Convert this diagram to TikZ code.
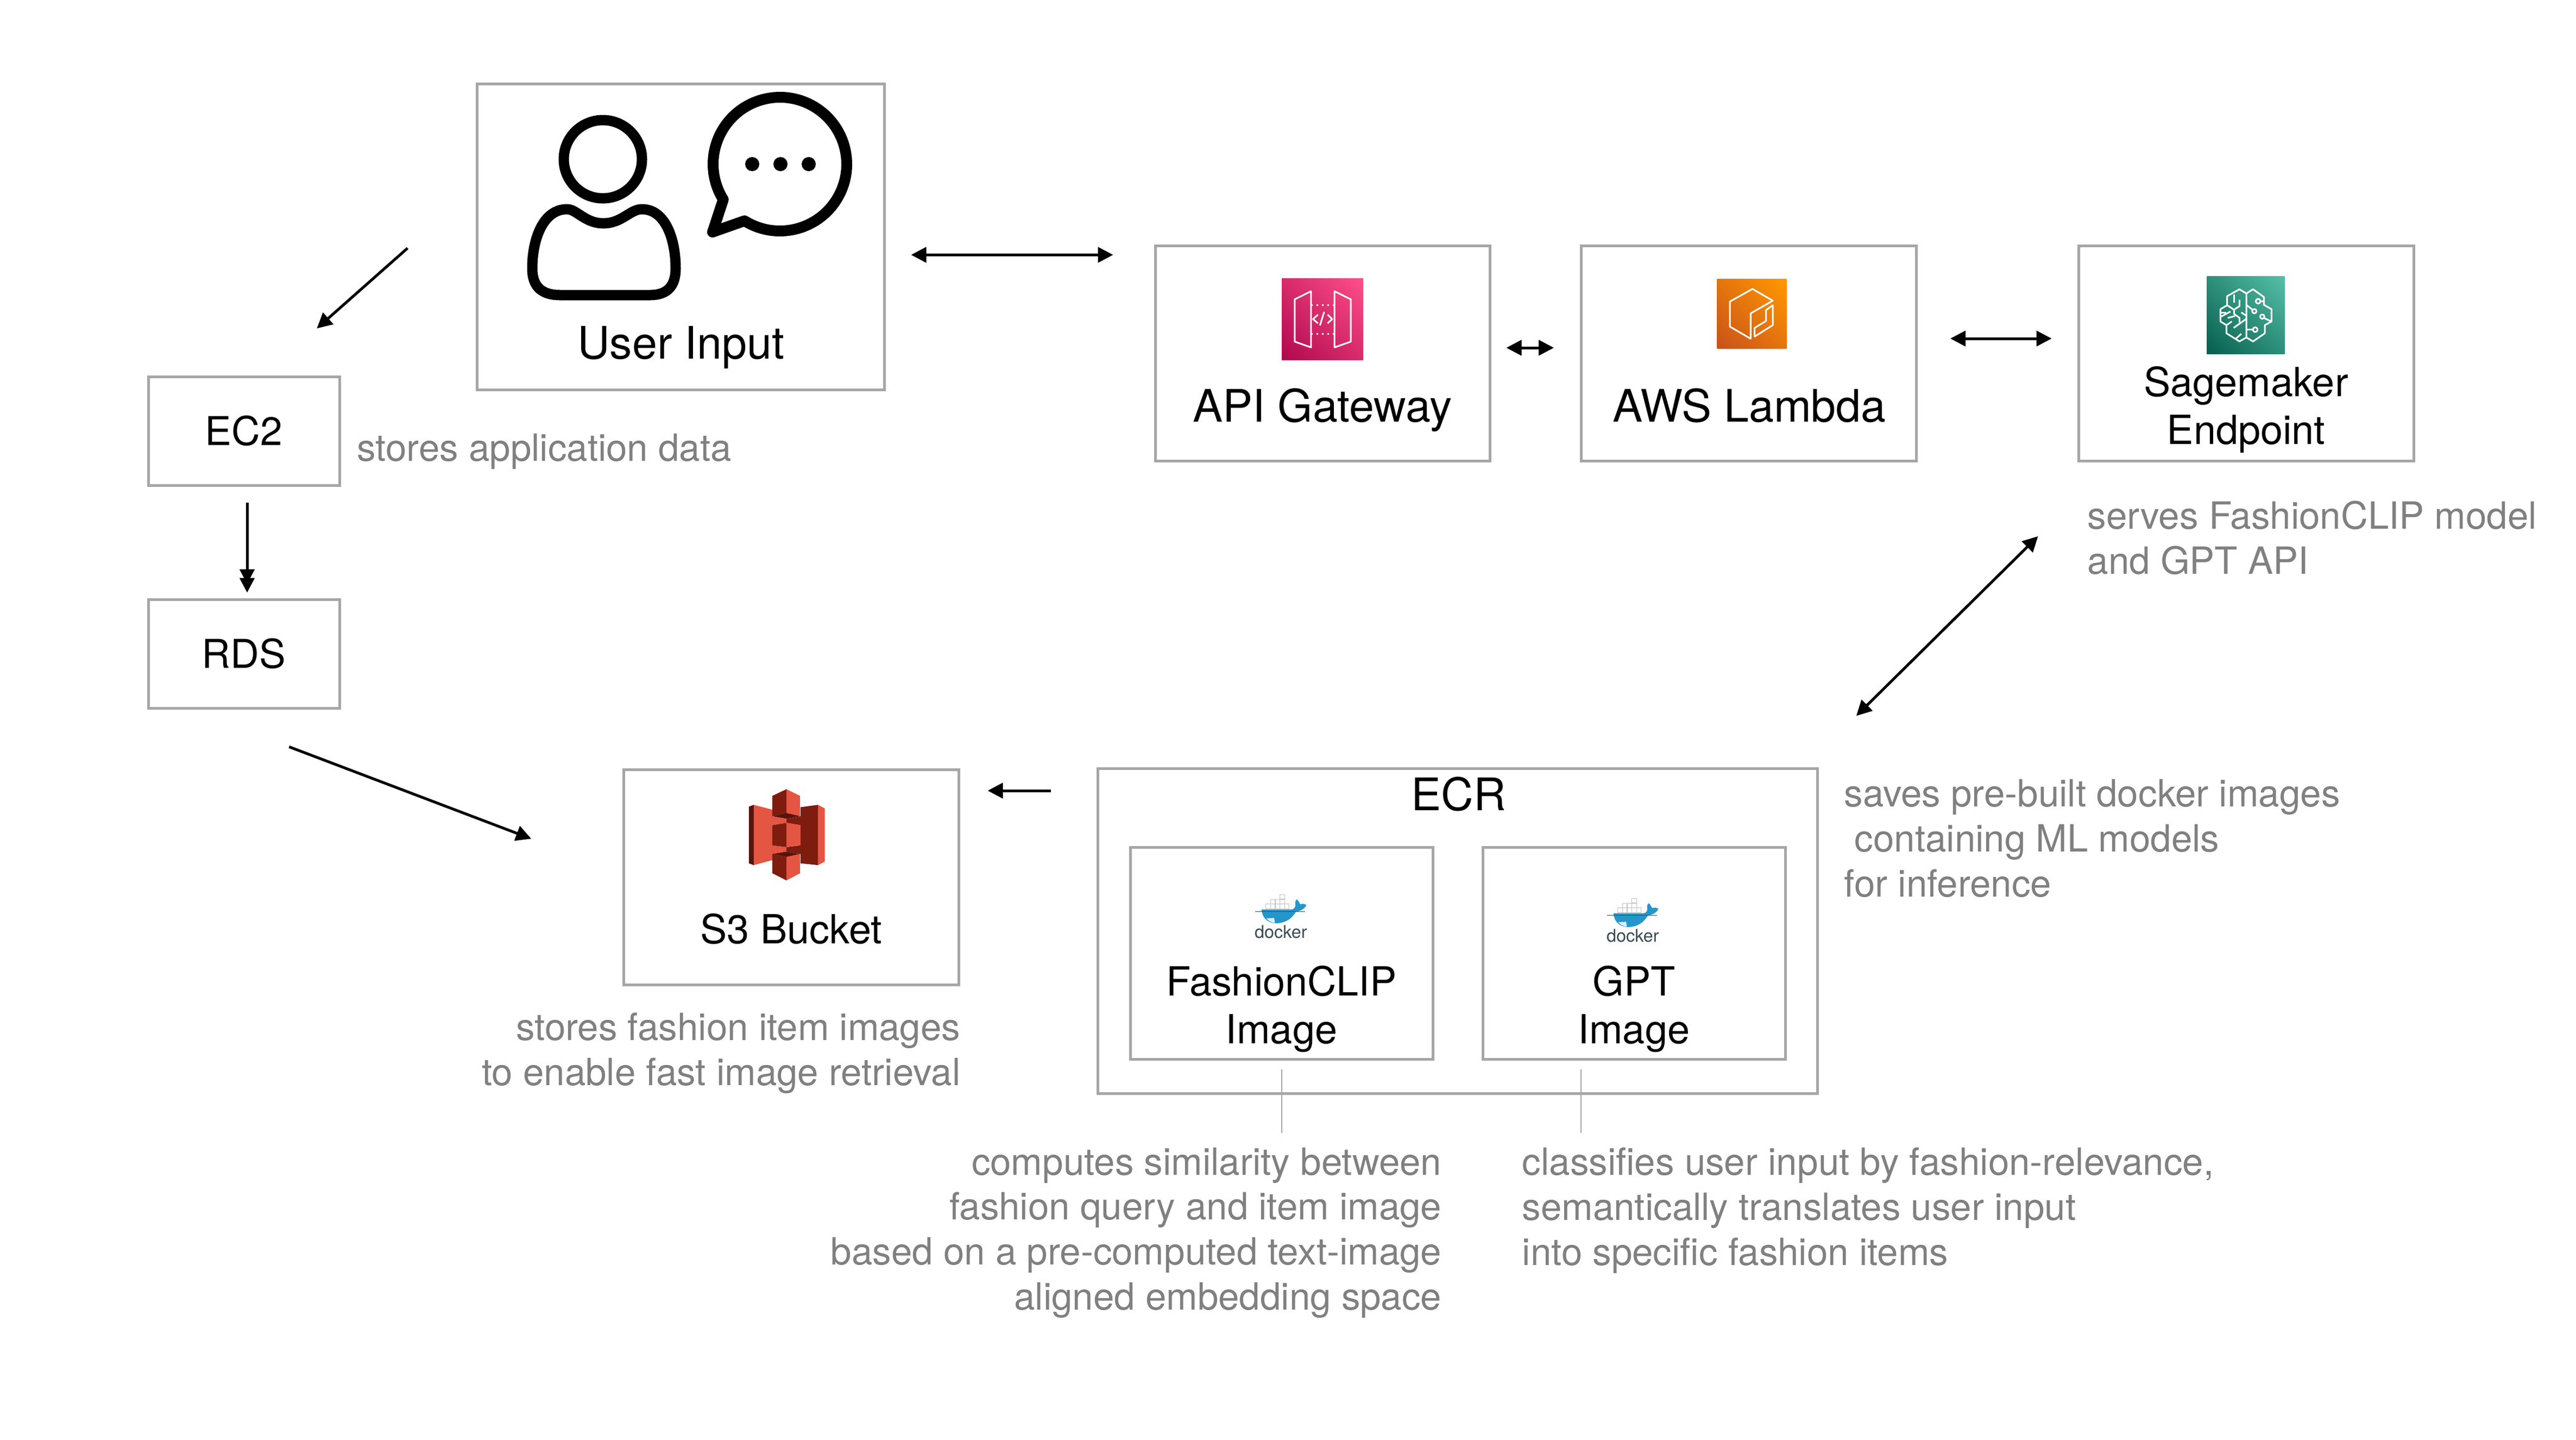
\documentclass[tikz,border=0pt]{standalone}
\usepackage{fontspec}
\setmainfont{TeX Gyre Heros}
\usetikzlibrary{arrows.meta,shadings}

\definecolor{boxgray}{HTML}{A6A6A6}
\definecolor{notegray}{HTML}{808080}
\definecolor{dockerblue}{HTML}{2496C9}
\definecolor{dockerink}{HTML}{394D54}
\definecolor{bucketlight}{HTML}{E45542}
\definecolor{bucketdark}{HTML}{7E1C10}
\definecolor{bucketdeep}{HTML}{5A130A}
\definecolor{gatewaylow}{HTML}{B0084D}
\definecolor{gatewaymid}{HTML}{D72B6C}
\definecolor{gatewayhigh}{HTML}{FF4F8B}
\definecolor{lambdalow}{HTML}{C8511B}
\definecolor{lambdamid}{HTML}{E4750D}
\definecolor{lambdahigh}{HTML}{FF9900}
\definecolor{sagelow}{HTML}{055F4E}
\definecolor{sagemid}{HTML}{2D8F7A}
\definecolor{sagehigh}{HTML}{56C0A7}

\tikzset{
    >={Triangle[length=0.28cm,width=0.28cm]},
    box/.style={draw=boxgray,line width=0.05cm,inner sep=0pt,font=\fontsize{20.8}{25}\selectfont},
    title/.style={inner sep=0pt,anchor=base,align=center,font=\fontsize{23.5}{25}\selectfont},
    subtitle/.style={inner sep=0pt,anchor=base,align=center,font=\fontsize{21}{25}\selectfont},
    note/.style={inner sep=0pt,text=notegray,font=\fontsize{19.65}{23.5}\selectfont},
    link/.style={line width=0.05cm,->},
    doublelink/.style={line width=0.05cm,-{Triangle[length=0.27cm,width=0.27cm,sep=-0.11cm]Triangle[length=0.27cm,width=0.27cm]}},
    biglink/.style={line width=0.05cm,<->},
    leader/.style={draw=boxgray,line width=0.02cm},
    glyph/.style={draw=white,line width=0.03cm,line join=round},
    usericon/.style={draw=black,line width=0.19cm,line join=round}
}

% docker logo, #1 is the top left of its crop
\newcommand{\dockerlogo}[2]{
    \begin{scope}[shift={#1},x=1cm/300,y=-1cm/300]
        \foreach \u/\v in {92/86,118/86,144/86,170/86,196/86,118/60,144/60,170/60,170/34}
            \draw[fill=white,draw=boxgray!70,line width=0.01cm] (\u,\v) rectangle ++(25,25);
        \fill[dockerblue] (68,116) -- (236,116) .. controls (250,114) and (258,100) .. (255,85) .. controls (252,72) and (258,65) .. (263,60) .. controls (272,68) and (278,80) .. (282,88) .. controls (295,82) and (308,85) .. (316,92) .. controls (305,115) and (280,125) .. (258,128) .. controls (235,170) and (195,192) .. (150,192) .. controls (105,192) and (72,165) .. (68,116) -- cycle;
        \fill[white!85!dockerblue] (95,165) -- (138,163) -- (142,190) .. controls (122,188) and (108,180) .. (95,165) -- cycle;
        \draw[dockerink,line width=0.012cm] (32,128) -- (308,128);
        \node[inner sep=0pt,text=dockerink,font=\fontsize{9.2}{10}\selectfont] (#2) at (175,240) {docker};
    \end{scope}
}

\begin{document}
\begin{tikzpicture}
    \useasboundingbox (0,0) rectangle (47.43,-26.49);

    \node[box,minimum width=3.52cm,minimum height=2cm] (ec) at (4.49,-7.93) {EC2};
    \node[box,minimum width=3.52cm,minimum height=2cm] (rds) at (4.49,-12.03) {RDS};
    \node[box,minimum width=7.50cm,minimum height=5.63cm] (userinput) at (12.53,-4.355) {};
    \node[box,minimum width=6.16cm,minimum height=3.96cm] (apigateway) at (24.35,-6.50) {};
    \node[box,minimum width=6.17cm,minimum height=3.96cm] (lambda) at (32.20,-6.50) {};
    \node[box,minimum width=6.17cm,minimum height=3.96cm] (sagemaker) at (41.355,-6.50) {};
    \node[box,minimum width=6.17cm,minimum height=3.96cm] (bucket) at (14.565,-16.14) {};
    \node[box,minimum width=13.25cm,minimum height=5.98cm] (ecr) at (26.835,-17.13) {};
    \node[box,minimum width=5.57cm,minimum height=3.90cm] (clipimage) at (23.595,-17.54) {};
    \node[box,minimum width=5.57cm,minimum height=3.90cm] (gptimage) at (30.085,-17.54) {};

    \node[title] (userlabel) at (12.54,-6.60) {User Input};
    \node[title] (gatewaylabel) at (24.35,-7.76) {API Gateway};
    \node[title] (lambdalabel) at (32.21,-7.76) {AWS Lambda};
    \node[subtitle] (sagelabel) at (41.355,-8.17) {Sagemaker\\Endpoint};
    \node[subtitle] (bucketlabel) at (14.565,-17.36) {S3 Bucket};
    \node[title] (ecrlabel) at (26.855,-14.91) {ECR};
    \node[subtitle] (cliplabel) at (23.595,-19.20) {FashionCLIP\\Image};
    \node[subtitle] (gptlabel) at (30.085,-19.20) {GPT\\Image};

    \node[note,anchor=base west] (ecnote) at (6.57,-8.48) {stores application data};
    \node[note,anchor=base west,align=left] (sagenote) at (38.43,-10.56) {serves FashionCLIP model\\and GPT API};
    \node[note,anchor=base west,align=left] (ecrnote) at (33.95,-16.50) {saves pre-built docker images\\\hspace*{0.19cm}containing ML models\\for inference};
    \node[note,anchor=base east,align=right] (bucketnote) at (17.69,-19.97) {stores fashion item images\\to enable fast image retrieval};
    \node[note,anchor=base east,align=right] (clipnote) at (26.55,-24.10) {computes similarity between\\fashion query and item image\\based on a pre-computed text-image\\aligned embedding space};
    \node[note,anchor=base west,align=left] (gptnote) at (28.02,-23.28) {classifies user input by fashion-relevance,\\semantically translates user input\\into specific fashion items};

    \draw[link,shorten <=1.67cm,shorten >=1.30cm] ([yshift=0.895cm]userinput.west) -- ([xshift=0.37cm]ec.north);
    \draw[doublelink,shorten <=0.29cm,shorten >=0.10cm] ([xshift=0.06cm]ec.south) -- ([xshift=0.06cm]rds.north);
    \draw[link,shorten <=1.94cm,shorten >=1.79cm] ([xshift=-0.98cm]rds.south) -- ([yshift=0.07cm]bucket.west);
    \draw[link,shorten <=0.84cm,shorten >=0.51cm] ([yshift=2.58cm]ecr.west) -- ([yshift=1.59cm]bucket.east);
    \draw[biglink,shorten <=0.47cm,shorten >=0.75cm] ([yshift=-0.335cm]userinput.east) -- ([yshift=1.81cm]apigateway.west);
    \draw[biglink,shorten <=0.28cm,shorten >=0.48cm] ([yshift=0.10cm]apigateway.east) -- ([yshift=0.10cm]lambda.west);
    \draw[biglink,shorten <=0.60cm,shorten >=0.47cm] ([yshift=0.27cm]lambda.east) -- ([yshift=0.27cm]sagemaker.west);
    \draw[biglink,shorten <=1.34cm,shorten >=1.94cm] ([xshift=6.39cm]ecr.north) -- ([xshift=-2.45cm]sagemaker.south);

    \draw[leader] ([yshift=-0.16cm]clipimage.south) -- ++(0,-1.17);
    \draw[leader] ([shift={(-0.98,-0.16)}]gptimage.south) -- ++(0,-1.17);

    % user and speech bubble
    \draw[usericon] (11.10,-2.93) circle (0.72);
    \draw[usericon] (11.11,-4.11) .. controls (11.45,-4.11) and (11.60,-3.85) .. (11.82,-3.85) .. controls (12.25,-3.85) and (12.44,-4.40) .. (12.44,-4.94) .. controls (12.44,-5.25) and (12.30,-5.43) .. (11.97,-5.43) -- (10.31,-5.43) .. controls (9.95,-5.43) and (9.80,-5.25) .. (9.80,-4.94) .. controls (9.80,-4.40) and (10.00,-3.85) .. (10.44,-3.85) .. controls (10.62,-3.85) and (10.77,-4.11) .. (11.11,-4.11) -- cycle;
    \draw[usericon,line width=0.2cm] ([shift={(238:1.23)}]14.36,-3.02) arc[start angle=238,end angle=572,radius=1.23] -- (13.12,-4.27) -- cycle;
    \foreach \u in {13.85,14.37,14.89} \fill (\u,-3.02) circle (0.13);

    % api gateway icon
    \shade[lower left=gatewaylow,upper right=gatewayhigh,lower right=gatewaymid,upper left=gatewaymid] (23.60,-5.12) rectangle (25.10,-6.62);
    \begin{scope}[shift={(21,-4.30)},x=1cm/156.8,y=-1cm/302]
        \draw[glyph] (445,365) -- (492,320) -- (492,632) -- (445,600) -- cycle;
        \draw[glyph] (560,320) -- (607,365) -- (607,600) -- (560,632) -- cycle;
        \draw[glyph,dotted,line width=0.035cm] (492,397) -- (560,397);
        \draw[glyph,dotted,line width=0.035cm] (492,557) -- (560,557);
        \draw[glyph] (512,450) -- (498,475) -- (512,498);
        \draw[glyph] (540,450) -- (553,475) -- (540,498);
        \draw[glyph] (530,435) -- (518,510);
    \end{scope}

    % lambda icon
    \begin{scope}[shift={(31.40,-5.00)},x=1cm/300,y=-1cm/300]
        \shade[lower left=lambdalow,upper right=lambdahigh,lower right=lambdamid,upper left=lambdamid] (65,40) rectangle (448,425);
        \draw[glyph] (372,160) -- (260,95) -- (135,165) -- (135,303) -- (250,370) -- (250,230) -- cycle;
        \draw[glyph] (372,185) -- (372,295) -- (272,358) -- (272,310) -- (335,272) -- (335,212) -- cycle;
    \end{scope}

    % sagemaker icon
    \begin{scope}[shift={(40.60,-4.95)},x=1cm/300,y=-1cm/300]
        \shade[lower left=sagelow,upper right=sagehigh,lower right=sagemid,upper left=sagemid] (10,40) rectangle (440,468);
        \draw[glyph] (228,135) -- (190,112) -- (122,150) -- (122,200) -- (85,222) -- (85,290) -- (118,310) -- (118,355) -- (190,400) -- (228,378) -- cycle;
        \draw[glyph] (228,135) -- (265,112) -- (325,155) -- (325,198) -- (367,222) -- (367,290) -- (330,310) -- (330,355) -- (265,400) -- (228,378);
        \draw[glyph] (160,140) -- (160,185);
        \draw[glyph] (122,200) -- (160,225) -- (190,205) -- (190,170);
        \draw[glyph] (160,225) -- (160,248) -- (190,270) -- (190,295);
        \draw[glyph] (90,240) -- (118,240);
        \draw[glyph] (90,262) -- (140,235);
        \draw[glyph] (125,270) -- (165,260);
        \draw[glyph] (118,310) -- (148,290);
        \draw[glyph] (158,325) -- (228,275);
        \draw[glyph] (200,240) -- (228,258);
        \draw[glyph] (170,385) -- (200,358);
        \draw[glyph] (228,198) -- (262,225);
        \draw[glyph] (272,233) circle (12);
        \draw[glyph] (306,178) -- (325,178);
        \draw[glyph] (293,178) circle (13);
        \draw[glyph] (328,272) -- (367,290);
        \draw[glyph] (316,263) circle (12);
        \draw[glyph] (228,335) -- (264,335);
        \draw[glyph] (277,335) circle (13);
    \end{scope}

    % s3 icon
    \begin{scope}[shift={(11.40,-14.00)},x=1cm/224,y=-1cm/302]
        \fill[bucketdeep] (535,255) -- (555,245) -- (555,580) -- (535,570) -- cycle;
        \fill[bucketlight] (555,245) -- (632,272) -- (632,308) -- (690,322) -- (690,345) -- (632,358) -- (632,470) -- (690,480) -- (690,505) -- (632,518) -- (632,552) -- (555,580) -- cycle;
        \fill[bucketdark] (820,245) -- (748,258) -- (748,308) -- (690,322) -- (690,345) -- (748,358) -- (748,470) -- (690,480) -- (690,505) -- (748,518) -- (748,570) -- (820,580) -- cycle;
        \fill[bucketlight] (820,245) -- (848,265) -- (848,560) -- (820,580) -- cycle;
        \fill[bucketdark] (632,358) -- (690,345) -- (690,480) -- (632,470) -- cycle;
        \fill[bucketlight] (690,345) -- (748,358) -- (748,470) -- (690,480) -- cycle;
        \fill[bucketdark] (632,195) -- (690,158) -- (690,290) -- (632,308) -- cycle;
        \fill[bucketlight] (690,158) -- (746,195) -- (746,308) -- (690,290) -- cycle;
        \fill[bucketdeep] (632,308) -- (690,290) -- (746,308) -- (690,322) -- cycle;
        \fill[bucketdeep] (632,518) -- (690,505) -- (746,518) -- (690,535) -- cycle;
        \fill[bucketdark] (632,518) -- (690,535) -- (690,665) -- (632,625) -- cycle;
        \fill[bucketlight] (690,535) -- (746,518) -- (746,625) -- (690,665) -- cycle;
    \end{scope}

    \dockerlogo{(23.00,-16.35)}{clipdocker}
    \dockerlogo{(29.48,-16.42)}{gptdocker}

\end{tikzpicture}
\end{document}
